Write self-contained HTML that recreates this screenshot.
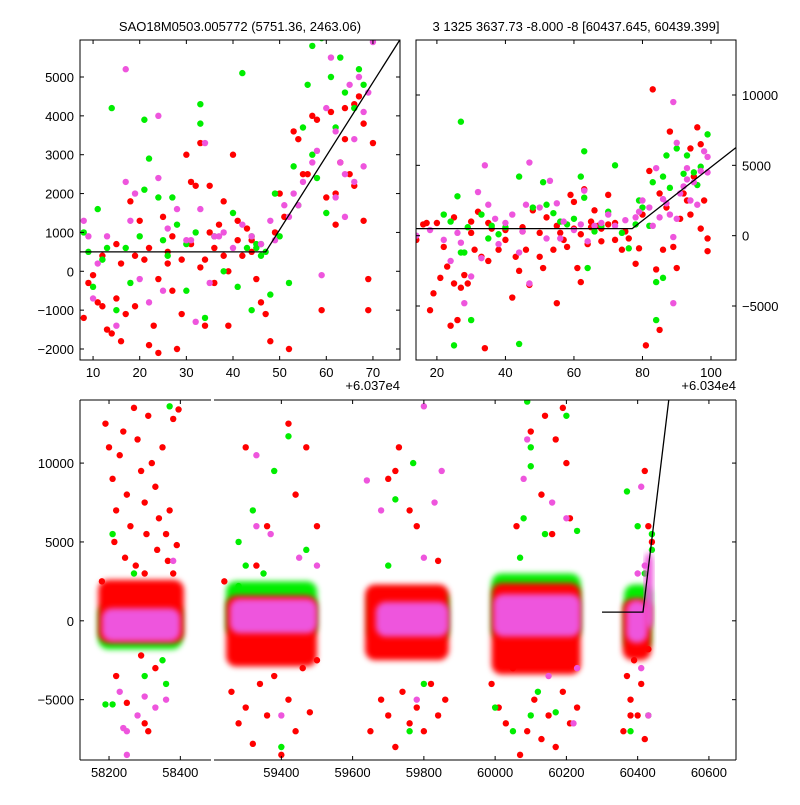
<!DOCTYPE html>
<html><head><meta charset="utf-8"><style>
body{margin:0;background:#fff;}
svg text{font-family:"Liberation Sans",sans-serif;font-size:13px;fill:#000;}
</style></head><body>
<svg id="c" width="800" height="800" xmlns="http://www.w3.org/2000/svg">
<defs><filter id="soft" x="-20%" y="-20%" width="140%" height="140%"><feGaussianBlur stdDeviation="3"/></filter></defs>
</svg>
<script>
// ---- data ----
const tlRed=[[8,-1200],[9,-300],[10,-100],[11,-800],[12,-900],[13,-1500],[14,-1600],[15,-700],[16,-1800],[17,-1100],[18,1800],[19,-900],[20,1300],[21,300],[22,-1900],[23,-1400],[24,-2100],[25,1400],[26,200],[27,-500],[28,-2000],[29,-1100],[30,3000],[31,2300],[32,2200],[33,3300],[34,-1400],[35,2200],[36,-300],[37,1200],[38,1800],[39,-1400],[40,3000],[41,1300],[42,400],[43,1100],[44,800],[45,-200],[46,-800],[47,-1100],[48,-1800],[49,1000],[50,2000],[51,1400],[52,-2000],[53,3600],[54,3400],[55,2500],[56,2500],[57,4000],[58,3900],[59,-1000],[60,1900],[61,4100],[62,1200],[63,2800],[64,3400],[65,2500],[66,4300],[67,4500],[68,3800],[69,-200],[69,-1000],[70,3300],[62,2000],[64,4200],[66,2200],[68,1300],[12,400],[15,700],[19,400],[22,600],[26,500],[29,300],[31,700],[34,300],[36,600],[38,400],[41,800],[44,500],[16,200],[24,-200],[33,100],[39,0],[27,900],[35,1000]];
const tlGreen=[[8,1000],[9,500],[10,-400],[11,1600],[13,600],[14,4200],[15,-1000],[18,-300],[20,900],[21,3900],[21,2100],[22,2900],[24,1900],[25,800],[27,1900],[28,1200],[30,-500],[32,1000],[33,4300],[33,3800],[34,-1200],[36,900],[38,0],[40,1500],[41,-400],[42,5100],[43,600],[44,-1000],[45,600],[46,700],[47,500],[48,-600],[49,2000],[50,900],[52,-300],[53,2700],[54,1700],[55,3700],[56,4800],[57,5800],[57,3000],[58,2400],[59,6000],[60,1500],[61,5000],[62,3700],[63,5500],[64,4600],[66,4200],[67,5200],[68,4800],[45,700],[46,400],[44,900],[30,700],[26,400],[17,600],[12,300]];
const tlMag=[[8,1300],[9,900],[10,-700],[11,200],[13,900],[15,-1400],[17,2300],[17,5200],[18,1300],[19,2000],[20,-200],[22,-800],[24,2400],[24,4000],[25,-500],[26,1100],[28,1600],[30,800],[32,-1300],[33,1600],[34,3300],[35,-300],[36,900],[38,1000],[40,600],[42,1200],[44,900],[46,700],[48,1300],[49,800],[51,1700],[52,1400],[53,2000],[54,1700],[55,2300],[57,2800],[58,3100],[59,-100],[60,4200],[61,5500],[62,3600],[63,2800],[64,2500],[65,4800],[66,3400],[67,5000],[68,4100],[69,4600],[70,5900],[62,1900],[64,1400],[66,2300],[68,2700],[37,900],[31,800]];
const tlFitX=[7,47,76];
const tlFitY=[500,500,6000];

const trRed=[[14,-300],[16,800],[17,900],[18,-5300],[19,-4100],[20,900],[21,-3000],[22,-800],[23,-2200],[24,-6400],[25,-3400],[26,-6000],[27,-3700],[28,-2800],[29,-3400],[30,200],[31,-1000],[32,1700],[33,-1500],[34,-8000],[35,-1800],[36,500],[38,-1000],[40,-300],[42,-4400],[43,-1500],[44,-2500],[45,300],[46,-1000],[47,-3500],[48,1800],[50,-1500],[51,-2300],[52,1300],[54,-1000],[55,-4800],[56,200],[58,-800],[59,2900],[60,2400],[61,-2300],[62,-3300],[63,3300],[64,-600],[66,1800],[68,500],[70,2900],[72,-300],[74,-1000],[76,-200],[78,-2000],[80,1500],[81,-7800],[82,4600],[83,10400],[84,-2400],[85,-6700],[86,-1000],[87,2000],[88,7400],[89,-800],[90,-2300],[92,3000],[94,1500],[95,4200],[96,7700],[97,500],[98,2500],[99,-1100],[99,-200],[93,2500],[91,1200],[55,700],[60,500],[65,600],[70,800],[75,300],[50,200],[45,600],[40,400],[35,900],[30,1000],[25,1300],[65,1000],[68,-400],[72,900],[57,-300],[62,100],[67,700],[79,-900],[85,3000],[94,6200],[97,6500]];
const trGreen=[[25,-7800],[26,2800],[27,8100],[28,-1200],[30,-6000],[22,1500],[24,1000],[29,600],[33,1500],[36,700],[40,600],[44,4200],[44,-7700],[48,2000],[51,3800],[52,2200],[54,1600],[56,1000],[58,800],[60,1200],[62,4200],[63,6000],[63,2700],[64,-2300],[66,300],[68,700],[70,1700],[72,5000],[74,200],[76,-900],[78,800],[79,2500],[80,2000],[82,700],[83,3800],[84,-3300],[84,-6000],[86,4200],[87,5700],[88,3400],[90,6200],[92,4400],[93,5700],[95,4500],[96,3600],[99,7200],[97,4900],[86,-3000],[35,-200],[38,100],[27,-1200]];
const trMag=[[14,0],[18,400],[22,-300],[24,-1800],[26,200],[27,-500],[28,-4800],[30,-2900],[32,3100],[33,-1600],[34,5000],[35,2200],[37,1200],[38,-600],[40,900],[42,1500],[44,-1200],[45,300],[46,2200],[47,5200],[47,-3400],[50,2000],[52,-200],[53,3900],[55,2300],[56,-200],[57,1000],[60,400],[62,800],[63,3200],[64,-400],[66,700],[68,900],[70,1500],[72,700],[75,1100],[78,1300],[79,1700],[80,2500],[82,2000],[84,4800],[86,2600],[88,1500],[89,9500],[89,-4800],[90,1200],[90,6600],[91,3000],[92,3500],[93,4000],[94,2500],[95,3800],[96,2200],[97,4600],[98,6000],[99,5600],[99,4500],[85,1300],[83,700],[89,-100],[93,4800],[87,2300]];
const trFitX=[13,77,108];
const trFitY=[500,500,6400];

const btRed=[[58190,12500],[58200,11000],[58210,9000],[58220,7000],[58230,10500],[58240,12000],[58250,8000],[58260,6000],[58270,13500],[58280,11500],[58290,9500],[58300,7500],[58310,13000],[58320,10000],[58330,8500],[58340,6500],[58350,11000],[58360,5500],[58370,7000],[58380,12800],[58390,4800],[58395,13400],[58215,5000],[58245,4000],[58275,3500],[58305,5500],[58335,4500],[58365,3800],[58220,-3500],[58290,-2200],[58330,-3000],[58250,-5200],[58300,-6500],[58310,-7000],[58380,3000],[58180,2500],[58300,3000],[59260,-4500],[59280,-6500],[59300,-5500],[59320,-7800],[59340,-4000],[59360,-6000],[59380,-3500],[59400,-8500],[59420,-5000],[59440,-7000],[59460,-3000],[59480,-5800],[59500,-2500],[59300,11000],[59420,12500],[59440,8000],[59360,6000],[59470,11000],[59500,6000],[59240,2500],[59330,3500],[59650,-7000],[59680,-5000],[59700,-6000],[59720,-8000],[59740,-4500],[59760,-6500],[59780,-5500],[59800,-7000],[59820,-4000],[59840,-6000],[59860,-5000],[59730,11000],[59760,7000],[59780,6000],[59700,9000],[59720,9500],[59840,3800],[59990,-4000],[60010,-5500],[60030,-6500],[60050,-3000],[60070,-8500],[60090,-7000],[60110,-5000],[60130,-7500],[60150,-6000],[60170,-8000],[60190,-4500],[60210,-6500],[60230,-5500],[60100,12000],[60140,13000],[60170,11500],[60190,13500],[60200,10000],[60060,6000],[60130,8000],[60210,6500],[60160,5500],[60370,-3500],[60380,-5000],[60390,-2500],[60400,-6000],[60410,-4000],[60420,-7500],[60430,-1800],[60420,9500],[60430,6000],[60440,5000],[60360,-7000],[60380,-6000]];
const btGreen=[[58210,5500],[58270,3000],[58300,-3500],[58350,-2500],[58360,-4000],[58190,-5300],[58210,-5300],[58370,13600],[59280,5000],[59320,7000],[59380,9500],[59420,11700],[59470,4500],[59350,3000],[59400,-8000],[59280,2200],[59300,3500],[59720,7700],[59770,10000],[59800,-4000],[59760,-7000],[59700,3500],[60090,13900],[60100,11000],[60100,9800],[60080,6500],[60140,5500],[60070,4000],[60120,-4500],[60100,-6000],[60000,-5500],[60050,-7000],[60170,-5800],[60200,13000],[60230,5700],[60370,8200],[60400,6000],[60420,3000],[60430,-6000],[60380,-7000],[60440,4500],[60440,5500]];
const btMag=[[58230,-4500],[58250,-7000],[58280,-6000],[58300,-4800],[58330,-5500],[58360,-5000],[58380,3800],[58240,-6800],[58250,-8500],[59330,10500],[59330,6000],[59370,5500],[59450,4000],[59500,3500],[59400,-6000],[59640,8900],[59680,7000],[59830,7500],[59850,9500],[59800,13600],[59800,4000],[59780,-5000],[60080,9000],[60090,11500],[60160,7500],[60200,6500],[60150,-3500],[60230,-3000],[60220,-6500],[60410,8500],[60420,3500],[60400,3000],[60410,-3000],[60430,-6000]];
// dense cores: [xStart, xEnd, yLow, yHigh]
const coreGreen=[[58170,58405,-1800,1100],[59245,59500,-1000,2500],[59645,59870,-1300,1900],[59990,60240,-1200,3000],[60362,60438,-1900,2300]];
const coreRed=[[58170,58410,-1400,2600],[59245,59500,-2900,1600],[59635,59870,-2500,2300],[59990,60240,-3400,2400],[60358,60438,-2500,1400]];
const coreMag=[[58180,58400,-1300,800],[59255,59500,-800,1400],[59665,59870,-1000,1200],[59995,60240,-1000,1700],[60368,60428,-1400,1300],[60420,60443,-500,4300]];
const btFitX=[60300,60415,60490];
const btFitY=[550,550,14500];

const tlXTicks=[10,20,30,40,50,60,70];
const tlYTicks=[-2000,-1000,0,1000,2000,3000,4000,5000];
const trXTicks=[20,40,60,80,100];
const trYTicks=[-5000,0,5000,10000];
const btXTicksL=[58200,58400];
const btXTicksR=[59400,59600,59800,60000,60200,60400,60600];
const btYTicks=[-5000,0,5000,10000];

const RED='#ff0000',GREEN='#00ee00',MAG='#ee55dd';
const svg=document.getElementById('c');
const NS='http://www.w3.org/2000/svg';
function el(tag,attrs,parent){const e=document.createElementNS(NS,tag);for(const k in attrs)e.setAttribute(k,attrs[k]);(parent||svg).appendChild(e);return e;}
function lin(d0,d1,p0,p1){return v=>p0+(v-d0)*(p1-p0)/(d1-d0);}
let clipN=0;
function clip(x,y,w,h){const id='cl'+(clipN++);const cp=el('clipPath',{id:id});el('rect',{x:x,y:y,width:w,height:h},cp);return 'url(#'+id+')';}

function points(g,arr,sx,sy,color,name){
  arr.forEach(p=>{const c=el('circle',{cx:sx(p[0]),cy:sy(p[1]),r:3.2,fill:color},g);
    
    });
}
function fit(g,xs,ys,sx,sy,name){
  const d=xs.map((x,i)=>(i?'L':'M')+sx(x)+','+sy(ys[i])).join('');
  const p=el('path',{d:d,stroke:'#000','stroke-width':1.3,fill:'none'},g);
  
  
}
function text(x,y,s,anchor,name){const t=el('text',{x:x,y:y,'text-anchor':anchor||'middle'});t.textContent=s;
  
  return t;}
function fmt(v){return v<0?'\u2212'+Math.abs(v):String(v);}
function xticks(ticks,sx,top,bot,name){ticks.forEach(v=>{const x=sx(v);
  el('line',{x1:x,x2:x,y1:bot,y2:bot-4,stroke:'#000'});el('line',{x1:x,x2:x,y1:top,y2:top+4,stroke:'#000'});
  text(x,bot+17,String(v),'middle',name);});}
function yticks(ticks,sy,l,r,labelRight,name){ticks.forEach(v=>{const y=sy(v);
  el('line',{x1:l,x2:l+4,y1:y,y2:y,stroke:'#000'});el('line',{x1:r,x2:r-4,y1:y,y2:y,stroke:'#000'});
  if(labelRight)text(r+6,y+5,fmt(v),'start',name);else text(l-6,y+5,fmt(v),'end',name);});}

// ---- top-left ----
{const L=80,R=400,T=40,B=360;
 const sx=lin(7.2,75.8,L,R),sy=lin(-2283,5952,B,T);
 const g=el('g',{'clip-path':clip(L,T,R-L,B-T)});
 
 points(g,tlRed,sx,sy,RED,'red-point');points(g,tlGreen,sx,sy,GREEN,'green-point');points(g,tlMag,sx,sy,MAG,'magenta-point');
 fit(g,tlFitX,tlFitY,sx,sy,'fit-line');
 const f=el('rect',{x:L,y:T,width:R-L,height:B-T,fill:'none',stroke:'#000','stroke-width':1});
 
 xticks(tlXTicks,sx,T,B,'x-tick-label');yticks(tlYTicks,sy,L,R,false,'y-tick-label');
 text(R,B+30,'+6.037e4','end','x-offset-label');
 text(240,31,'SAO18M0503.005772 (5751.36, 2463.06)','middle','left-title');}
// ---- top-right ----
{const L=416,R=736,T=40,B=360;
 const sx=lin(13.9,107.3,L,R),sy=lin(-8839,13910,B,T);
 const g=el('g',{'clip-path':clip(L,T,R-L,B-T)});
 
 points(g,trRed,sx,sy,RED,'red-point');points(g,trGreen,sx,sy,GREEN,'green-point');points(g,trMag,sx,sy,MAG,'magenta-point');
 fit(g,trFitX,trFitY,sx,sy,'fit-line');
 const f=el('rect',{x:L,y:T,width:R-L,height:B-T,fill:'none',stroke:'#000','stroke-width':1});
 
 xticks(trXTicks,sx,T,B,'x-tick-label');yticks(trYTicks,sy,L,R,true,'y-tick-label');
 text(R,B+30,'+6.034e4','end','x-offset-label');
 text(576,31,'3 1325 3637.73 -8.000 -8 [60437.645, 60439.399]','middle','right-title');}
// ---- bottom (broken axis) ----
{const T=400,B=760;
 const sy=lin(-8825,14000,B,T);
 const segs=[{L:80,R:211,d0:58118.6,d1:58486,ticks:btXTicksL},{L:214,R:736,d0:59211,d1:60676,ticks:btXTicksR}];
 segs.forEach((s,i)=>{
  const sx=lin(s.d0,s.d1,s.L,s.R);
  const g=el('g',{'clip-path':clip(s.L,T,s.R-s.L,B-T)});
  
  function cores(arr,color,name){arr.forEach(c=>{const r=el('rect',{x:sx(c[0]),y:sy(c[3]),width:sx(c[1])-sx(c[0]),height:sy(c[2])-sy(c[3]),rx:10,ry:10,fill:color,filter:'url(#soft)'},g);
    
    });}
  cores(coreGreen,GREEN,'green-dense-core');cores(coreRed,RED,'red-dense-core');
  points(g,btRed,sx,sy,RED,'red-point');points(g,btGreen,sx,sy,GREEN,'green-point');
  cores(coreMag,MAG,'magenta-dense-core');points(g,btMag,sx,sy,MAG,'magenta-point');
  fit(g,btFitX,btFitY,sx,sy,'fit-line');
  el('line',{x1:s.L,x2:s.R,y1:T,y2:T,stroke:'#000'});el('line',{x1:s.L,x2:s.R,y1:B,y2:B,stroke:'#000'});
  if(i==0){el('line',{x1:s.L,x2:s.L,y1:T,y2:B,stroke:'#000'});
    btYTicks.forEach(v=>{const y=sy(v);el('line',{x1:s.L,x2:s.L+4,y1:y,y2:y,stroke:'#000'});text(s.L-6,y+5,fmt(v),'end','y-tick-label');});}
  else{el('line',{x1:s.R,x2:s.R,y1:T,y2:B,stroke:'#000'});btYTicks.forEach(v=>el('line',{x1:s.R,x2:s.R-4,y1:sy(v),y2:sy(v),stroke:'#000'}));}
  s.ticks.forEach(v=>{const x=sx(v);el('line',{x1:x,x2:x,y1:B,y2:B-4,stroke:'#000'});el('line',{x1:x,x2:x,y1:T,y2:T+4,stroke:'#000'});text(x,B+17,String(v),'middle','x-tick-label');});
 });}
</script>
</body></html>
